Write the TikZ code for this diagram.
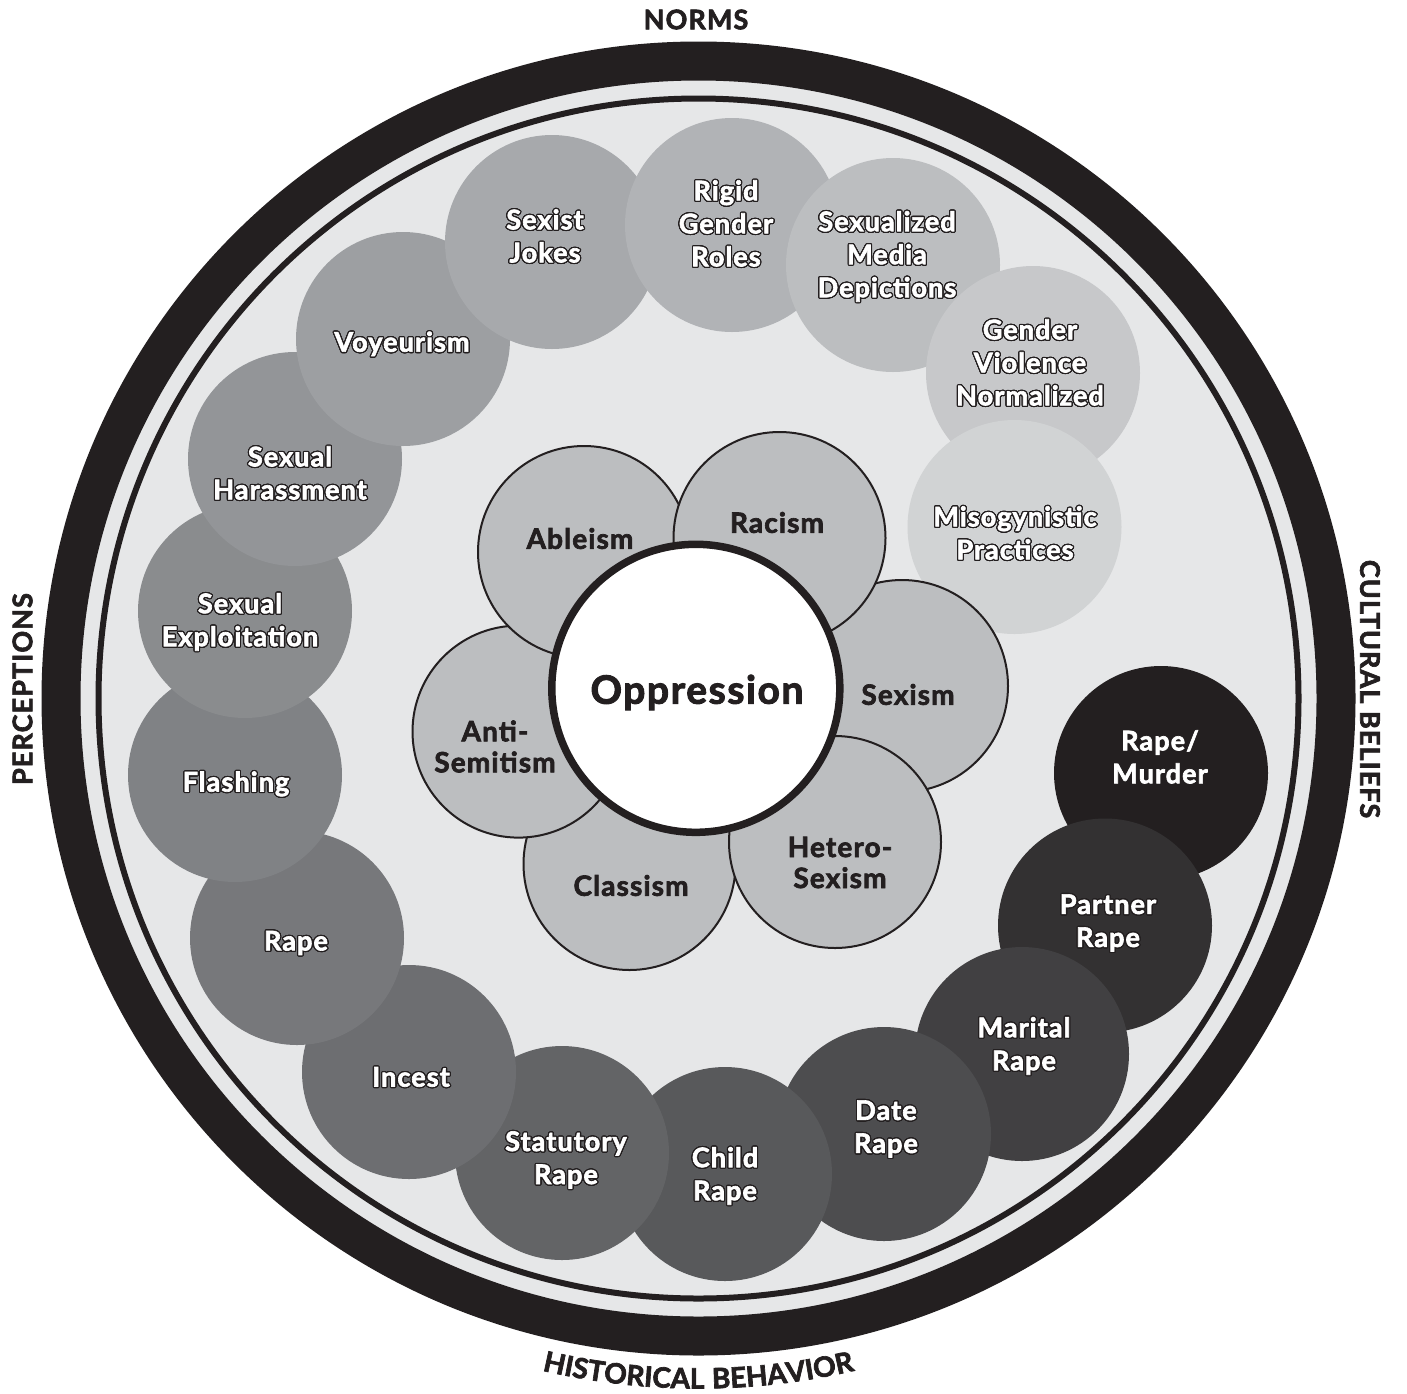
\documentclass[tikz,border=0pt]{standalone}
\usepackage{fontspec}
\setmainfont{Lato}[LetterSpace=4, BoldFeatures={FakeBold=2.4}]
\usepackage[copies]{contour}
\usetikzlibrary{decorations.text}
\definecolor{ink}{HTML}{231F20}
\definecolor{bg}{HTML}{E6E7E8}
\definecolor{k100}{HTML}{231F20}
\definecolor{k95}{HTML}{333132}
\definecolor{k90}{HTML}{414042}
\definecolor{k85}{HTML}{4D4D4F}
\definecolor{k80}{HTML}{58595B}
\definecolor{k75}{HTML}{636466}
\definecolor{k70}{HTML}{6D6E71}
\definecolor{k65}{HTML}{77787B}
\definecolor{k60}{HTML}{808285}
\definecolor{k55}{HTML}{8A8C8E}
\definecolor{k50}{HTML}{939598}
\definecolor{k45}{HTML}{9D9FA2}
\definecolor{k40}{HTML}{A7A9AC}
\definecolor{k35}{HTML}{B1B3B6}
\definecolor{k30}{HTML}{BCBEC0}
\definecolor{k25}{HTML}{C7C8CA}
\definecolor{k20}{HTML}{D1D3D4}
\contourlength{1.2pt}
\contournumber{24}
\newcommand{\wl}[1]{\contour{ink}{#1}}
\begin{document}
\begin{tikzpicture}[x=1pt,y=-1pt,
  ocirc/.style={circle, minimum size=214pt, inner sep=0pt, draw=none},
  icirc/.style={circle, minimum size=212pt, inner sep=0pt, draw=ink, line width=2pt, fill=k30},
  olab/.style={font=\bfseries\fontsize{27}{33}\selectfont, text=white, align=center, inner sep=0pt},
  ilab/.style={font=\bfseries\fontsize{28}{31}\selectfont, text=ink, align=center, inner sep=0pt},
  rim/.style={font=\bfseries\fontsize{27}{27}\selectfont, text=ink, inner sep=0pt},
]
\useasboundingbox (0,0) rectangle (1407,1393);
\fill[white] (0,0) rectangle (1407,1393);
\coordinate (c) at (698.5,698.5);
\fill[bg] (c) circle[radius=620];
\draw[ink, line width=39pt] (c) circle[radius=637.5];
\draw[ink, line width=6pt] (c) circle[radius=600];

% outer ring of circles, darkest first
\node[ocirc, fill=k100] (rm)  at (1161,773) {};
\node[ocirc, fill=k95]  (pr)  at (1105,925.5) {};
\node[ocirc, fill=k90]  (mr)  at (1022,1054) {};
\node[ocirc, fill=k85]  (dr)  at (884,1134) {};
\node[ocirc, fill=k80]  (cr)  at (725,1174) {};
\node[ocirc, fill=k75]  (sr)  at (562,1153) {};
\node[ocirc, fill=k70]  (inc) at (409,1072) {};
\node[ocirc, fill=k65]  (rp)  at (297,938) {};
\node[ocirc, fill=k60]  (fl)  at (235,775) {};
\node[ocirc, fill=k55]  (se)  at (245,611) {};
\node[ocirc, fill=k50]  (sh)  at (295,459) {};
\node[ocirc, fill=k45]  (vo)  at (403,339) {};
\node[ocirc, fill=k40]  (sj)  at (552,242) {};
\node[ocirc, fill=k35]  (rg)  at (732,225) {};
\node[ocirc, fill=k30]  (sm)  at (893,265) {};
\node[ocirc, fill=k25]  (gv)  at (1033,373) {};
\node[ocirc, fill=k20]  (mp)  at (1014.5,527) {};

% outer labels
\node[olab] (rmL)  at (1160,757.5) {\wl{Rape/}\\\wl{Murder}};
\node[olab] (prL)  at (1108,923.5) {\wl{Partner}\\\wl{Rape}};
\node[olab] (mrL)  at (1024,1046.5) {\wl{Marital}\\\wl{Rape}};
\node[olab] (drL)  at (886,1129.5) {\wl{Date}\\\wl{Rape}};
\node[olab] (crL)  at (725,1176.5) {\wl{Child}\\\wl{Rape}};
\node[olab] (srL)  at (566,1160.5) {\wl{Statutory}\\\wl{Rape}};
\node[olab] (incL) at (411,1077.5) {\wl{Incest}};
\node[olab] (rpL)  at (296,943.5) {\wl{Rape}};
\node[olab] (flL)  at (236,784.5) {\wl{Flashing}};
\node[olab] (seL)  at (240,622.5) {\wl{Sexual}\\\wl{Exploitation}};
\node[olab] (shL)  at (290,473.5) {\wl{Sexual}\\\wl{Harassment}};
\node[olab] (voL)  at (402,344.5) {\wl{Voyeurism}};
\node[olab] (sjL)  at (545,236.5) {\wl{Sexist}\\\wl{Jokes}};
\node[olab] (rgL)  at (726,224) {\wl{Rigid}\\\wl{Gender}\\\wl{Roles}};
\node[olab] (smL)  at (887,257) {\wl{Sexualized}\\\wl{Media}\\\wl{Depictions}};
\node[olab] (gvL)  at (1030,363) {\wl{Gender}\\\wl{Violence}\\\wl{Normalized}};
\node[olab] (mpL)  at (1015,533.5) {\wl{Misogynistic}\\\wl{Practices}};

% inner flower
\node[icirc] (sex) at (902,686) {};
\node[icirc] (cla) at (629.5,864) {};
\node[icirc] (het) at (835,842) {};
\node[icirc] (ant) at (518.5,731.6) {};
\node[icirc] (abl) at (584,552) {};
\node[icirc] (rac) at (779.5,538) {};
\node[circle, minimum size=288pt, inner sep=0pt, draw=ink, line width=7.5pt, fill=white] (opp) at (695.8,688.3) {};

\node[ilab] (ablL) at (580,538.5) {Ableism};
\node[ilab] (racL) at (777,522.5) {Racism};
\node[ilab] (sexL) at (908,694.5) {Sexism};
\node[ilab] (hetL) at (840,862.5) {Hetero-\\Sexism};
\node[ilab] (claL) at (631,885.5) {Classism};
\node[ilab] (antL) at (495,746.5) {Anti-\\Semitism};
\node[ilab, font=\bfseries\fontsize{39}{39}\selectfont] (oppL) at (697,692.5) {Oppression};

% rim labels
\node[rim] (norms) at (696,19.5) {NORMS};
\node[rim, rotate=90] (perc) at (22.5,689) {PERCEPTIONS};
\node[rim, rotate=-90] (cult) at (1370,689) {CULTURAL BELIEFS};
\path[decorate, decoration={text along path, text align=center, text color=ink,
  text={|\bfseries\fontsize{28}{28}\selectfont|HISTORICAL BEHAVIOR}}]
  (c) ++(105:690) arc[start angle=105, end angle=75, radius=690];
\end{tikzpicture}
\end{document}
